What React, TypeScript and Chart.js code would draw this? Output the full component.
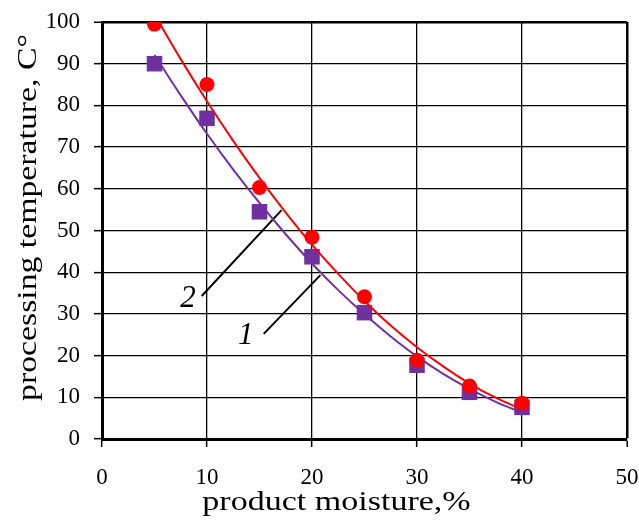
import React, { useEffect, useRef } from "react";
import { Chart, registerables } from "chart.js";

Chart.register(...registerables);

// Measured points
const moisture = [5, 10, 15, 20, 25, 30, 35, 40];
const tempSeries1 = [90, 76.9, 54.5, 43.7, 30.3, 17.7, 11.2, 7.6];
const tempSeries2 = [99.5, 85, 60.3, 48.4, 34.1, 18.9, 12.7, 8.6];

// Trend curves
const curveX = [5, 7.5, 10, 12.5, 15, 17.5, 20, 22.5, 25, 27.5, 30, 32.5, 35, 37.5, 40];
const curve1 = [92.1, 82.4, 73.2, 64.6, 56.6, 49.1, 42.1, 35.7, 29.9, 24.6, 19.8, 15.6, 12.0, 8.9, 6.3];
const curve2 = [101.8, 91.1, 81.0, 71.5, 62.6, 54.3, 46.6, 39.6, 33.1, 27.2, 22.0, 17.4, 13.3, 9.9, 7.1];

// Leader lines and curve labels
const leader1X = [15.4, 20.8];
const leader1Y = [25.2, 39.3];
const leader2X = [9.5, 17.1];
const leader2Y = [34.3, 54.9];
const curveLabels = ["1", "2"];
const curveLabelX = [13.7, 8.2];
const curveLabelY = [24.7, 33.6];

const xTitle = "product moisture,%";
const yTitle = "processing temperature, C°";

const RED = "#FF0000";
const PURPLE = "#7030A0";
const SERIF = '"Liberation Serif", "Times New Roman", serif';

const toXY = (xs: number[], ys: number[]) => xs.map((x, i) => ({ x, y: ys[i] }));

const annotPlugin = {
  id: "annot",
  afterDraw(chart: any) {
    const { ctx, scales, chartArea } = chart;
    const x = scales.x;
    const y = scales.y;
    ctx.save();
    ctx.fillStyle = "#000";
    ctx.font = `italic 31px ${SERIF}`;
    ctx.textAlign = "center";
    ctx.textBaseline = "middle";
    curveLabels.forEach((t, i) => {
      ctx.fillText(t, x.getPixelForValue(curveLabelX[i]), y.getPixelForValue(curveLabelY[i]));
    });
    ctx.font = `27px ${SERIF}`;
    ctx.textBaseline = "alphabetic";
    // x title
    ctx.save();
    ctx.translate(chartArea.left + 234.5, chartArea.bottom + 71);
    ctx.scale(1.26, 1);
    ctx.fillText(xTitle, 0, 0);
    ctx.restore();
    // y title
    ctx.save();
    ctx.translate(36, chartArea.top + 195.5);
    ctx.rotate(-Math.PI / 2);
    ctx.scale(1.25, 1);
    ctx.fillText(yTitle, 0, 0);
    ctx.restore();
    ctx.restore();
  },
};

export default function App() {
  const ref = useRef<HTMLCanvasElement | null>(null);

  useEffect(() => {
    if (!ref.current) return;
    const chart = new Chart(ref.current, {
      type: "scatter",
      data: {
        datasets: [
          {
            label: "2 points",
            data: toXY(moisture, tempSeries2),
            pointStyle: "circle",
            pointRadius: 7.5,
            backgroundColor: RED,
            borderColor: RED,
            borderWidth: 0,
            showLine: false,
            order: 0,
          },
          {
            label: "2 curve",
            data: toXY(curveX, curve2),
            showLine: true,
            borderColor: RED,
            borderWidth: 2,
            pointRadius: 0,
            cubicInterpolationMode: "monotone",
            order: 1,
          },
          {
            label: "1 points",
            data: toXY(moisture, tempSeries1),
            pointStyle: "rect",
            pointRadius: 11,
            backgroundColor: PURPLE,
            borderColor: PURPLE,
            borderWidth: 0,
            showLine: false,
            order: 2,
          },
          {
            label: "1 curve",
            data: toXY(curveX, curve1),
            showLine: true,
            borderColor: PURPLE,
            borderWidth: 2,
            pointRadius: 0,
            cubicInterpolationMode: "monotone",
            order: 3,
          },
          {
            label: "leader 1",
            data: toXY(leader1X, leader1Y),
            showLine: true,
            borderColor: "#000",
            borderWidth: 2,
            pointRadius: 0,
            order: 4,
          },
          {
            label: "leader 2",
            data: toXY(leader2X, leader2Y),
            showLine: true,
            borderColor: "#000",
            borderWidth: 2,
            pointRadius: 0,
            order: 5,
          },
        ],
      } as any,
      options: {
        animation: false,
        responsive: true,
        maintainAspectRatio: false,
        layout: { padding: { left: 0, top: 22, right: 12, bottom: 0 } },
        plugins: {
          legend: { display: false },
          tooltip: { enabled: false },
        },
        scales: {
          x: {
            type: "linear",
            min: 0,
            max: 50,
            ticks: {
              stepSize: 10,
              color: "#000",
              padding: 17,
              font: { family: SERIF, size: 23 },
            },
            grid: {
              color: "#000",
              lineWidth: (c: any) => (c.tick && c.tick.value === 50 ? 2.5 : 1.3),
              tickLength: 8,
              tickWidth: 1.5,
              tickColor: "#000",
            },
            border: { color: "#000", width: 3 },
            afterFit: (s: any) => {
              s.height = 84;
              s.paddingLeft = 0;
              s.paddingRight = 0;
            },
          },
          y: {
            type: "linear",
            min: 0,
            max: 100,
            ticks: {
              stepSize: 10,
              color: "#000",
              padding: 14,
              font: { family: SERIF, size: 23 },
            },
            grid: {
              color: "#000",
              lineWidth: (c: any) => (c.tick && c.tick.value === 100 ? 2.5 : 1.3),
              tickLength: 8,
              tickWidth: 1.5,
              tickColor: "#000",
            },
            border: { color: "#000", width: 3 },
            afterFit: (s: any) => {
              s.width = 102;
              s.paddingTop = 0;
              s.paddingBottom = 0;
            },
          },
        },
      } as any,
      plugins: [annotPlugin],
    });
    return () => chart.destroy();
  }, []);

  return (
    <div style={{ position: "fixed", left: 0, top: 0, width: 639, height: 523, background: "#fff" }}>
      <canvas ref={ref} />
    </div>
  );
}
